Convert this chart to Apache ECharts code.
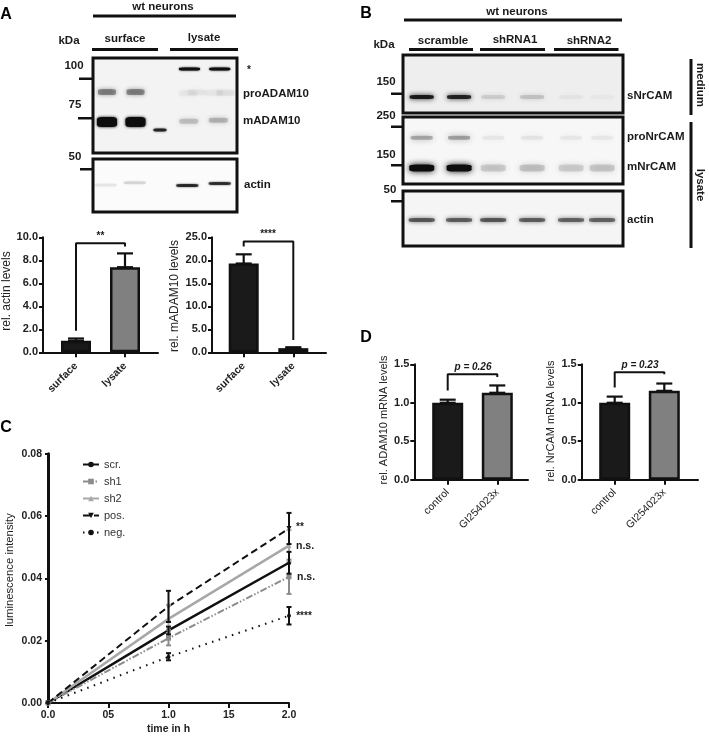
<!DOCTYPE html>
<html><head><meta charset="utf-8">
<style>html,body{margin:0;padding:0;background:#fff}#c{width:709px;height:736px}canvas{filter:blur(.35px)}</style>
<script src="https://cdn.jsdelivr.net/npm/echarts@6/dist/echarts.min.js"></script>
</head><body><div id="c"></div>
<script>
// ---------- DATA ----------
// Blot bands: [lane position %, migration %, intensity 0-1]
const adamStar   = [[67,11.6,.97],[88,11.6,.95]];
const adamPro    = [[9.7,35.8,.36],[29.5,35.8,.36],[66,37,.03],[72,36,.04],[84,36.5,.03],[92,36.5,.05]];
const adamMature = [[9.7,67.4,1],[29.5,67.4,1]];
const adamMarker = [[46.5,75.8,.75]];
const adamMatureLys = [[66.5,66.5,.16],[87,65.5,.2]];
const adamActin  = [[8.8,49,.05],[29,45,.09],[65.5,50,.72],[88,46,.68]];
const lanesB = [8.5,25.5,41,58.7,76.4,90.5];
const sNrCAM   = [.9,.85,.1,.14,.03,.02];
const proNrCAM = [.28,.3,.05,.06,.05,.05];
const mNrCAM   = [1,1,.14,.16,.13,.15];
const actinB   = [.55,.52,.55,.52,.5,.5];

// Bar panels
const barA1Cat = ['surface','lysate'];  const barA1Val = [1.0,7.4];   const barA1Err = [1.2,8.6];
const barA2Cat = ['surface','lysate'];  const barA2Val = [19.3,0.9];  const barA2Err = [21.3,1.1];
const barD1Cat = ['control','GI254023x']; const barD1Val = [1.0,1.13]; const barD1Err = [1.04,1.225];
const barD2Cat = ['control','GI254023x']; const barD2Val = [1.0,1.155]; const barD2Err = [1.08,1.25];
const bracketA1 = [[0,1.88],[0,9.48],[1,9.48],[1,9.2]];
const bracketA2 = [[0,23],[0,24.06],[1,24.06],[1,2.7]];
const bracketD1 = [[0,1.16],[0,1.37],[1,1.37],[1,1.335]];
const bracketD2 = [[0,1.2],[0,1.396],[1,1.396],[1,1.37]];

// Panel C
const timeH = [0,1,2];
const timeTickLabels = ['0.0','05','1.0','15','2.0'];
const scr = [0,.0233,.045]; const scrLo=[0,.022,.0415];  const scrHi=[0,.0245,.0485];
const sh1 = [0,.0208,.0405];const sh1Lo=[0,.0185,.035];  const sh1Hi=[0,.0235,.046];
const sh2 = [0,.027,.0505]; const sh2Lo=[0,.0225,.0455]; const sh2Hi=[0,.0315,.0555];
const pos = [0,.031,.056];  const posLo=[0,.026,.051];   const posHi=[0,.036,.061];
const neg = [0,.0148,.028]; const negLo=[0,.0137,.0252]; const negHi=[0,.016,.0308];

// ---------- BUILD ----------
const FF='"Liberation Sans",Arial,sans-serif';
const grids=[],xAxes=[],yAxes=[],series=[],graphics=[];
function box(x0,y0,x1,y1){return {left:x0,top:y0,width:x1-x0,height:y1-y0};}
function addBlot(x0,y0,x1,y1,bg){
  const i=grids.length;
  grids.push(Object.assign(box(x0,y0,x1,y1),{show:true,borderColor:'#111',borderWidth:3,backgroundColor:bg}));
  xAxes.push({gridIndex:i,type:'value',min:0,max:100,show:false});
  yAxes.push({gridIndex:i,type:'value',min:0,max:100,inverse:true,show:false});
  return i;
}
function bands(i,data,w,h,blur){
  series.push({type:'scatter',xAxisIndex:i,yAxisIndex:i,symbol:'roundRect',symbolSize:[w,h],silent:true,
    data:data.map(d=>({value:[d[0],d[1]],itemStyle:{color:'#0d0d0d',opacity:d[2],shadowBlur:blur,shadowColor:'#0d0d0d'}}))});
}
function errBars(i,xs,lo,hi,cap,color,lw){
  series.push({type:'custom',xAxisIndex:i,yAxisIndex:i,silent:true,z:4,
    data:xs.map((x,k)=>[x,lo[k],hi[k]]),encode:{x:0,y:[1,2]},
    renderItem(p,api){
      const a=api.coord([api.value(0),api.value(1)]),b=api.coord([api.value(0),api.value(2)]);
      const st={stroke:color,lineWidth:lw,fill:null};
      return {type:'group',children:[
        {type:'line',shape:{x1:a[0],y1:a[1],x2:b[0],y2:b[1]},style:st},
        {type:'line',shape:{x1:b[0]-cap,y1:b[1],x2:b[0]+cap,y2:b[1]},style:st},
        {type:'line',shape:{x1:a[0]-cap,y1:a[1],x2:a[0]+cap,y2:a[1]},style:st}]};
    }});
}
function T(text,x,y,opt){opt=opt||{};
  graphics.push({type:'text',x,y,rotation:opt.rot||0,silent:true,style:{text,fill:opt.fill||'#1a1a1a',
    font:(opt.italic?'italic ':'')+(opt.w||'bold')+' '+(opt.s||11.5)+'px '+FF,align:opt.a||'center',verticalAlign:'middle'}});}
function R(x0,y0,x1,y1){graphics.push({type:'rect',silent:true,shape:{x:x0,y:y0,width:x1-x0,height:y1-y0},style:{fill:'#111'}});}
function barPanel(o){
  const i=grids.length;
  grids.push(box(o.axisX,o.top,o.endX,o.bottom));
  const sp=o.c1-o.c0;
  xAxes.push({gridIndex:i,type:'value',min:(o.axisX-o.c0)/sp,max:(o.endX-o.c0)/sp,splitLine:{show:false},
    axisLine:{show:true,onZero:false,lineStyle:{color:'#111',width:2}},
    axisTick:{show:true,customValues:[0,1],length:5,lineStyle:{color:'#111',width:2}},
    axisLabel:{customValues:[0,1],rotate:45,margin:o.xm,fontFamily:FF,fontWeight:o.bold?'bold':'normal',fontSize:o.xfs,color:'#222',
      formatter:v=>o.cats[Math.round(v)]}});
  yAxes.push({gridIndex:i,type:'value',min:0,max:o.max,interval:o.step,splitLine:{show:false},
    axisLine:{show:true,onZero:false,lineStyle:{color:'#111',width:2}},
    axisTick:{show:true,length:4,lineStyle:{color:'#111',width:2}},
    axisLabel:{margin:5,fontFamily:FF,fontWeight:'bold',fontSize:11,color:'#222',formatter:v=>v.toFixed(1)}});
  T(o.title,o.tx,o.ty,{rot:Math.PI/2,w:'normal',s:o.nfs,fill:'#222'});
  series.push({type:'bar',xAxisIndex:i,yAxisIndex:i,barWidth:o.bw,silent:true,z:3,
    data:o.val.map((v,k)=>({value:[k,v],itemStyle:{color:k?'#808080':'#1a1a1a',borderColor:'#111',borderWidth:2.5}}))});
  errBars(i,[0,1],o.val,o.err,o.cap,'#111',2.2);
  series.push({type:'line',xAxisIndex:i,yAxisIndex:i,data:o.bracket,symbol:'none',silent:true,animation:false,z:5,
    lineStyle:{color:'#111',width:2}});
}

// Panel A blots
let b=addBlot(93,58,237,153,'#f3f3f3');
bands(b,adamStar,21,3,2); bands(b,adamPro,18,6,4); bands(b,adamMature,20,10,3);
bands(b,adamMarker,13,3,2); bands(b,adamMatureLys,19,5,5);
b=addBlot(93,159,237,212,'#fbfbfb'); bands(b,adamActin,22,3,2);

// Panel B blots
const at=(v,y)=>lanesB.map((x,k)=>[x,y,v[k]]);
b=addBlot(403,55,623,113,'#eeeeee'); bands(b,at(sNrCAM,72.4),24,4,5);
b=addBlot(403,117,623,184,'#f7f7f7'); bands(b,at(proNrCAM,31),22,4,6); bands(b,at(mNrCAM,76),25,7,6);
b=addBlot(403,191,623,246,'#f5f5f5'); bands(b,at(actinB,52.7),26,4,4);

// Bars
barPanel({axisX:43,endX:158,top:237.3,bottom:352.3,c0:76,c1:125,max:10,step:2,cats:barA1Cat,val:barA1Val,err:barA1Err,
  bracket:bracketA1,title:'rel. actin levels',tx:7,ty:291,nfs:12,bw:30,cap:8,bold:true,xfs:10.5,xm:12});
barPanel({axisX:212,endX:326,top:237.3,bottom:352.3,c0:243.7,c1:293.3,max:25,step:5,cats:barA2Cat,val:barA2Val,err:barA2Err,
  bracket:bracketA2,title:'rel. mADAM10 levels',tx:175,ty:296,nfs:12,bw:30,cap:8,bold:true,xfs:10.5,xm:12});
barPanel({axisX:414.3,endX:528,top:364.3,bottom:479.7,c0:447.7,c1:497.3,max:1.5,step:.5,cats:barD1Cat,val:barD1Val,err:barD1Err,
  bracket:bracketD1,title:'rel. ADAM10 mRNA levels',tx:384,ty:420,nfs:11,bw:31,cap:8,xfs:10.5,xm:11});
barPanel({axisX:581.7,endX:698,top:364.3,bottom:479.7,c0:614.7,c1:664.3,max:1.5,step:.5,cats:barD2Cat,val:barD2Val,err:barD2Err,
  bracket:bracketD2,title:'rel. NrCAM mRNA levels',tx:551,ty:421,nfs:11,bw:31,cap:8,xfs:10.5,xm:11});

// Panel C
const gc=grids.length;
grids.push(box(48,453.7,289,705.3));
xAxes.push({gridIndex:gc,type:'value',min:0,max:2,interval:.5,splitLine:{show:false},
  axisLine:{show:true,onZero:false,lineStyle:{color:'#111',width:2}},
  axisTick:{show:true,length:5,lineStyle:{color:'#111',width:2}},
  axisLabel:{margin:7,fontFamily:FF,fontWeight:'bold',fontSize:10.5,color:'#222',formatter:v=>timeTickLabels[Math.round(v*2)]},
  name:'time in h',nameLocation:'middle',nameGap:21,nameTextStyle:{fontFamily:FF,fontWeight:'bold',fontSize:10.5,color:'#222'}});
yAxes.push({gridIndex:gc,type:'value',min:0,max:.08,interval:.02,splitLine:{show:false},
  axisLine:{show:true,onZero:false,lineStyle:{color:'#111',width:3}},
  axisTick:{show:true,length:3,lineStyle:{color:'#111',width:2}},
  axisLabel:{margin:6,fontFamily:FF,fontWeight:'bold',fontSize:10.5,color:'#222',formatter:v=>v.toFixed(2)}});
T('luminescence intensity',10,570,{rot:Math.PI/2,w:'normal',s:11.3,fill:'#222'});
function lineS(name,ys,color,lw,type,sym,rot,ss){
  series.push({name,type:'line',xAxisIndex:gc,yAxisIndex:gc,animation:false,z:3,silent:true,
    data:timeH.map((t,k)=>[t,ys[k]]),symbol:sym,symbolRotate:rot,symbolSize:ss,showSymbol:true,
    lineStyle:{color,width:lw,type},itemStyle:{color}});
}
lineS('scr.',scr,'#111',2.5,'solid','circle',0,4.5);
lineS('sh1',sh1,'#8c8c8c',2,[7,2,1.5,2,1.5,2],'rect',0,5);
lineS('sh2',sh2,'#a8a8a8',2.5,'solid','triangle',0,5);
lineS('pos.',pos,'#111',2,[7,4],'triangle',180,5);
lineS('neg.',neg,'#111',2,[1.5,5.5],'circle',0,4);
const xsC=[1,2];
errBars(gc,xsC,sh1Lo.slice(1),sh1Hi.slice(1),2.5,'#8c8c8c',2);
errBars(gc,xsC,sh2Lo.slice(1),sh2Hi.slice(1),2.5,'#a8a8a8',2);
errBars(gc,xsC,scrLo.slice(1),scrHi.slice(1),2.5,'#111',2);
errBars(gc,xsC,posLo.slice(1),posHi.slice(1),2.5,'#111',2);
errBars(gc,xsC,negLo.slice(1),negHi.slice(1),2.5,'#111',2);

// Annotations: panel letters and labels
T('A',6,15,{s:16,fill:'#000'});T('B',366,14,{s:16,fill:'#000'});T('C',6,428,{s:16,fill:'#000'});T('D',366,338,{s:16,fill:'#000'});
T('wt neurons',163,7);R(93,14.5,236,17.5);
T('surface',125,39);T('lysate',204,38);T('kDa',69,41);
R(92,48,158,51);R(170,48,238,51);
T('100',74,66);T('75',75,105);T('50',75,157);
R(79,77.5,92,80);R(78,117,92,119.5);R(80,168,92,170.5);
T('*',247,70,{a:'left',s:10});T('proADAM10',243,94,{a:'left'});T('mADAM10',243,121,{a:'left'});T('actin',244,185,{a:'left'});
T('wt neurons',517,12);R(404,18.5,622,21.5);
T('kDa',384,45);T('scramble',443,41);T('shRNA1',515,40);T('shRNA2',589,41);
R(409,48,473,51);R(480,48,545,51);R(554,48,618.5,51);
T('150',386,82);T('250',386,116);T('150',386,155);T('50',390,190);
R(391,92.5,403,95);R(391,125.5,403,128);R(391,164,403,166.5);R(391,200,403,202.5);
T('sNrCAM',627,96,{a:'left'});T('proNrCAM',627,137,{a:'left'});T('mNrCAM',627,167,{a:'left'});T('actin',627,220,{a:'left'});
R(689.5,59,692.5,115);R(689.5,122,692.5,248);
T('medium',700,85,{rot:-Math.PI/2});T('lysate',700,185,{rot:-Math.PI/2});
T('**',100.5,236,{s:10});T('****',268,234,{s:10});
T('p = 0.26',473,367,{italic:true,s:10});T('p = 0.23',640,365,{italic:true,s:10});
T('**',300,527,{s:10});T('n.s.',296,546,{a:'left',s:10.5});T('n.s.',297,577,{a:'left',s:10.5});T('****',304,616,{s:10});

const chart=echarts.init(document.getElementById('c'),null,{renderer:'canvas'});
chart.setOption({animation:false,backgroundColor:'#fff',grid:grids,xAxis:xAxes,yAxis:yAxes,series,graphic:graphics,
  legend:{data:['scr.','sh1','sh2','pos.','neg.'],orient:'vertical',left:82,top:459,padding:0,itemWidth:16,itemHeight:7,itemGap:6,
    textStyle:{fontFamily:FF,fontSize:11,color:'#333'},selectedMode:false}});
</script></body></html>
